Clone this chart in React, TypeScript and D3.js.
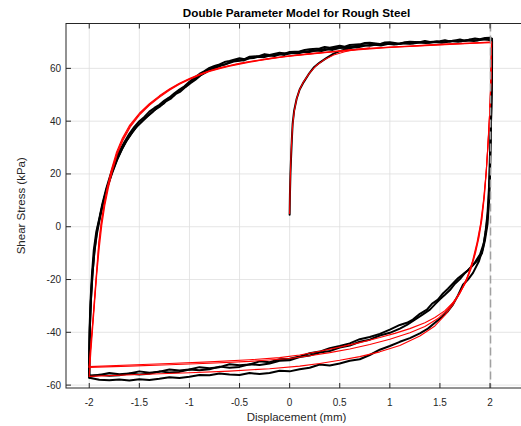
import React from 'react';
import { scaleLinear, line } from 'd3';

type Pt = [number, number];

const xTicks = [-2, -1.5, -1, -0.5, 0, 0.5, 1, 1.5, 2];
const yTicks = [-60, -40, -20, 0, 20, 40, 60];
const dashedX = 2.005;

// measured (black)
const blackInit: Pt[] = [[0,4.5],[0.003,12],[0.008,20],[0.014,26],[0.022,33],[0.03,39],[0.045,44],[0.07,48.5],[0.1,52],[0.14,54.8],[0.19,57.8],[0.24,60.3],[0.3,62.2],[0.37,64],[0.44,65.6],[0.52,66.8],[0.6,67.6],[0.7,68.5]];

const blackDown1: Pt[] = [[2.02,71.2],[2.02,62],[2.015,50],[2.01,40],[2.005,30],[2.0,20],[1.99,10],[1.975,1],[1.95,-5],[1.92,-10],[1.88,-12.5],[1.83,-14.5],[1.78,-16.5],[1.73,-18],[1.68,-19.5],[1.63,-21.5],[1.58,-23.5],[1.53,-25.3],[1.48,-27.6],[1.42,-29.2],[1.37,-31.4],[1.3,-33],[1.23,-35.2],[1.17,-36.4],[1.1,-37.2],[1.0,-39],[0.9,-40.6],[0.8,-41.8],[0.7,-42.6],[0.6,-44.2],[0.5,-45.2],[0.4,-46],[0.3,-47.3],[0.2,-47.9],[0.1,-49.2],[0,-50],[-0.1,-50.2],[-0.2,-51.3],[-0.3,-51],[-0.4,-52.2],[-0.5,-52.5],[-0.6,-52.1],[-0.7,-53.2],[-0.8,-53.6],[-0.9,-53.2],[-1.0,-54.1],[-1.1,-54.5],[-1.2,-54.1],[-1.3,-54.9],[-1.4,-55.3],[-1.5,-54.8],[-1.6,-55.6],[-1.7,-55.9],[-1.8,-55.4],[-1.9,-56.2],[-2.0,-56.4]];

const blackUp1: Pt[] = [[-2.0,-56.4],[-2.0,-48],[-1.996,-38],[-1.987,-28],[-1.973,-18],[-1.955,-9],[-1.93,-2],[-1.9,3],[-1.87,8.5],[-1.83,14.5],[-1.79,19.5],[-1.75,24],[-1.7,28.5],[-1.65,32],[-1.6,35.2],[-1.55,37.8],[-1.5,40],[-1.45,41.6],[-1.4,43.6],[-1.35,45],[-1.3,46.2],[-1.25,47.8],[-1.2,49],[-1.15,50.6],[-1.1,52],[-1.05,53.2],[-1.0,54.9],[-0.95,56.4],[-0.9,57.9],[-0.85,59],[-0.8,60.2],[-0.75,60.9],[-0.7,61.5],[-0.65,62.4],[-0.6,62.8],[-0.5,63.8],[-0.45,63.5],[-0.4,64.4],[-0.3,64.7],[-0.25,65.4],[-0.2,65.1],[-0.1,65.9],[-0.05,65.6],[0,66.2],[0.1,66.4],[0.15,67],[0.2,67.2],[0.3,67.5],[0.35,68.1],[0.4,67.8],[0.5,68.6],[0.55,68.2],[0.6,68.9],[0.7,69.1],[0.75,69.6],[0.8,69.7],[0.9,69.2],[0.95,69.8],[1.0,69.9],[1.1,69.3],[1.15,69.9],[1.2,70.1],[1.3,69.9],[1.35,70.4],[1.4,70],[1.5,70.3],[1.55,70.7],[1.6,70.2],[1.7,70.9],[1.75,70.5],[1.8,70.9],[1.85,71.3],[1.9,71],[1.95,71.5],[2.0,71.6],[2.02,71.2]];

const blackDown2: Pt[] = [[2.02,70.5],[2.02,60],[2.012,45],[2.005,32],[1.998,20],[1.985,8],[1.965,0],[1.94,-6],[1.9,-10.5],[1.85,-13.5],[1.8,-15.8],[1.75,-17.5],[1.7,-19.8],[1.65,-21.6],[1.6,-24],[1.55,-25.8],[1.5,-27.5],[1.45,-29.4],[1.4,-31.4],[1.33,-33.2],[1.25,-35.2],[1.17,-37.2],[1.1,-38.6],[1.0,-40.2],[0.9,-41.2],[0.8,-42.8],[0.7,-43.6],[0.6,-45],[0.5,-45.8],[0.4,-47.1],[0.3,-47.7],[0.2,-48.8],[0.1,-49.4],[0,-50.6],[-0.1,-50.8],[-0.2,-51.8],[-0.3,-52.4],[-0.4,-52.1],[-0.5,-53.1],[-0.6,-53.4],[-0.7,-53],[-0.8,-54],[-0.9,-54.4],[-1.0,-54.1],[-1.1,-55],[-1.2,-55.2],[-1.3,-54.8],[-1.4,-55.7],[-1.5,-56],[-1.6,-55.6],[-1.7,-56.3],[-1.8,-56.5],[-1.9,-56.1],[-2.0,-56.8]];

const blackUp2: Pt[] = [[-2.0,-56.8],[-1.998,-47],[-1.992,-37],[-1.982,-27],[-1.966,-17],[-1.945,-8],[-1.92,-1],[-1.89,4.5],[-1.855,10],[-1.815,15.5],[-1.77,20.5],[-1.72,25.5],[-1.67,29.6],[-1.62,33],[-1.57,35.8],[-1.52,38.2],[-1.46,40.6],[-1.41,42.2],[-1.35,44.2],[-1.3,45.4],[-1.24,47.4],[-1.19,48.4],[-1.14,50.2],[-1.09,51.2],[-1.04,52.9],[-0.99,54.4],[-0.94,55.7],[-0.89,57.3],[-0.84,58.4],[-0.79,59.6],[-0.74,60.1],[-0.69,61],[-0.62,61.8],[-0.56,62.6],[-0.5,62.9],[-0.43,63.7],[-0.36,63.9],[-0.3,64.6],[-0.22,64.9],[-0.15,64.7],[-0.08,65.5],[0,65.8],[0.08,65.6],[0.16,66.4],[0.24,66.8],[0.32,66.6],[0.4,67.4],[0.48,67.9],[0.56,67.7],[0.64,68.4],[0.72,68.9],[0.8,68.6],[0.88,69.1],[0.96,69.4],[1.04,69],[1.12,69.5],[1.2,69.3],[1.28,69.9],[1.36,69.6],[1.44,70],[1.52,69.7],[1.6,70.4],[1.68,70.1],[1.76,70.6],[1.84,70.4],[1.92,71],[1.98,70.8],[2.02,70.5]];

const blackDown3: Pt[] = [[2.02,70],[2.015,55],[2.01,40],[2.0,28],[1.99,15],[1.975,5],[1.955,-2],[1.93,-8],[1.89,-13],[1.83,-17.5],[1.78,-20],[1.73,-22],[1.68,-26],[1.63,-29.5],[1.58,-32],[1.52,-34.2],[1.45,-36.4],[1.38,-38.6],[1.3,-40.4],[1.2,-42.2],[1.1,-43.6],[1.0,-45.2],[0.9,-46.6],[0.8,-48.6],[0.7,-50.2],[0.6,-50.8],[0.5,-51.8],[0.4,-52.6],[0.3,-52.2],[0.2,-53.4],[0.1,-54],[0,-54.8],[-0.1,-54.6],[-0.2,-55.4],[-0.3,-55.8],[-0.4,-55.4],[-0.5,-56.2],[-0.6,-56],[-0.7,-55.6],[-0.8,-56.3],[-0.9,-56.2],[-1.0,-56.8],[-1.1,-57.3],[-1.2,-57],[-1.3,-57.6],[-1.4,-58.1],[-1.5,-57.8],[-1.6,-58.3],[-1.7,-57.9],[-1.8,-58.2],[-1.9,-58],[-1.95,-57.6],[-2.0,-57.2]];

const blackUp3: Pt[] = [[-2.0,-57.2],[-2.0,-49],[-1.995,-39],[-1.985,-29],[-1.97,-19],[-1.95,-10],[-1.925,-3],[-1.895,3],[-1.865,8.5],[-1.825,14.5],[-1.78,19.8],[-1.735,24.4],[-1.685,28.6],[-1.635,32.2],[-1.585,35],[-1.53,37.8],[-1.48,39.6],[-1.42,41.8],[-1.37,43.4],[-1.31,45.6],[-1.26,46.6],[-1.21,48.6],[-1.16,49.6],[-1.11,51.4],[-1.06,52.6],[-1.01,54.2],[-0.96,55.4],[-0.91,57],[-0.86,58.2],[-0.81,59.7],[-0.76,60.2],[-0.7,61.2],[-0.64,61.6],[-0.58,62.6],[-0.52,63.2],[-0.46,63],[-0.4,63.9],[-0.33,64.4],[-0.26,64.2],[-0.19,65],[-0.12,65.4],[-0.05,65.1],[0.03,66],[0.11,66.3],[0.19,66.1],[0.27,66.9],[0.35,67.3],[0.43,67],[0.51,67.8],[0.59,68.2],[0.67,67.9],[0.75,68.6],[0.83,69],[0.91,68.7],[0.99,69.3],[1.07,69.1],[1.15,69.6],[1.23,69.4],[1.31,69.9],[1.39,69.7],[1.47,70.2],[1.55,69.9],[1.63,70.5],[1.71,70.3],[1.79,70.8],[1.87,70.6],[1.95,71.1],[2.02,70.9]];

// model (red)
const redInit: Pt[] = [[0,5],[0.004,14],[0.01,23],[0.018,31],[0.03,38.5],[0.045,43.5],[0.07,48.5],[0.1,52],[0.14,55],[0.2,58.3],[0.27,61.2],[0.35,63.4],[0.44,65.1],[0.55,66.3],[0.65,67.1],[0.8,67.8]];

const redDown1: Pt[] = [[2.015,70],[2.013,62],[2.005,52],[1.995,42],[1.98,32],[1.965,22],[1.945,12],[1.92,3],[1.89,-4],[1.855,-10],[1.81,-16],[1.76,-21],[1.7,-25],[1.63,-28.8],[1.55,-31.8],[1.45,-34.4],[1.35,-36.4],[1.2,-38.6],[1.05,-40.4],[0.9,-42],[0.7,-43.9],[0.5,-45.6],[0.3,-47.2],[0.1,-48.6],[-0.1,-49.6],[-0.4,-50.4],[-0.8,-51.2],[-1.2,-51.8],[-1.6,-52.4],[-2.0,-53]];

const redUp1: Pt[] = [[-2.0,-53],[-1.985,-45],[-1.965,-36],[-1.945,-26],[-1.925,-16],[-1.905,-6],[-1.88,2],[-1.85,9],[-1.82,15],[-1.78,21.5],[-1.73,28],[-1.67,33.5],[-1.6,38.3],[-1.5,43],[-1.4,46.6],[-1.3,49.6],[-1.2,52.2],[-1.1,54.4],[-1.0,56.2],[-0.9,57.8],[-0.8,59.1],[-0.7,60.2],[-0.6,61.1],[-0.5,61.9],[-0.4,62.6],[-0.3,63.2],[-0.2,63.8],[-0.1,64.3],[0,64.8],[0.2,65.6],[0.4,66.3],[0.6,67],[0.8,67.6],[1.0,68.1],[1.2,68.5],[1.4,68.9],[1.6,69.3],[1.8,69.6],[2.0,70.0],[2.015,70.0]];

const redDown2: Pt[] = [[2.015,69.7],[2.012,60],[2.004,50],[1.993,40],[1.978,30],[1.96,20],[1.935,10],[1.905,1],[1.87,-6],[1.825,-13],[1.77,-19.5],[1.7,-25.2],[1.63,-29.5],[1.55,-33.5],[1.45,-37.6],[1.3,-41.4],[1.1,-45],[0.9,-47.4],[0.7,-49.2],[0.5,-50.6],[0.3,-51.8],[0.1,-52.8],[-0.2,-53.8],[-0.6,-54.7],[-1.0,-55.3],[-1.5,-56],[-2.0,-56.7]];

const redUp2: Pt[] = [[-2.0,-56.7],[-1.985,-48],[-1.965,-38],[-1.945,-28],[-1.925,-18],[-1.9,-8],[-1.875,0.5],[-1.845,8],[-1.81,14.5],[-1.77,21],[-1.72,27.5],[-1.66,33],[-1.59,37.8],[-1.5,42.3],[-1.4,46],[-1.3,49],[-1.2,51.7],[-1.1,54],[-1.0,55.8],[-0.9,57.4],[-0.8,58.8],[-0.7,59.9],[-0.6,60.8],[-0.5,61.6],[-0.4,62.3],[-0.3,63],[-0.2,63.6],[-0.1,64.1],[0,64.6],[0.2,65.4],[0.4,66.1],[0.6,66.8],[0.8,67.4],[1.0,67.9],[1.2,68.3],[1.4,68.7],[1.6,69.1],[1.8,69.4],[2.0,69.7],[2.015,69.7]];

const redDown3: Pt[] = [[2.015,70],[2.012,60],[2.004,50],[1.994,41],[1.98,31],[1.962,21],[1.94,11],[1.912,2],[1.88,-5],[1.84,-11.5],[1.79,-17.5],[1.73,-22.8],[1.66,-27.2],[1.58,-31.2],[1.48,-34.8],[1.35,-37.8],[1.2,-40.2],[1.0,-42.6],[0.8,-44.6],[0.6,-46.3],[0.4,-47.7],[0.2,-48.9],[0,-49.9],[-0.4,-51],[-0.8,-51.7],[-1.2,-52.3],[-1.6,-52.8],[-2.0,-53.3]];

const redUp3: Pt[] = [[-2.0,-53.3],[-1.985,-45.5],[-1.965,-36.5],[-1.945,-26.5],[-1.924,-16.5],[-1.903,-6.5],[-1.878,1.5],[-1.848,8.6],[-1.816,14.8],[-1.775,21.2],[-1.725,27.8],[-1.665,33.2],[-1.595,38],[-1.5,42.7],[-1.4,46.3],[-1.3,49.3],[-1.2,52],[-1.1,54.2],[-1.0,56],[-0.9,57.6],[-0.8,59],[-0.7,60.1],[-0.6,61],[-0.5,61.8],[-0.4,62.5],[-0.3,63.1],[-0.2,63.7],[-0.1,64.2],[0,64.7],[0.2,65.5],[0.4,66.2],[0.6,66.9],[0.8,67.5],[1.0,68],[1.2,68.4],[1.4,68.8],[1.6,69.2],[1.8,69.5],[2.0,69.9],[2.015,69.9]];

const blackSeries = [blackInit, blackDown1, blackUp1, blackDown2, blackUp2, blackDown3, blackUp3];
const redSeries = [redInit, redDown1, redUp1, redDown2, redUp2, redDown3, redUp3];

const W = 521;
const H = 426;
const left = 66;
const right = 527;
const top = 23.5;
const bottom = 388;
const font = 'Liberation Sans, Arial, Helvetica, sans-serif';
const axisColor = '#262626';

export default function App() {
  const x = scaleLinear().domain([-2.232, 2.369]).range([left, right]);
  const y = scaleLinear().domain([-61.1, 77.0]).range([bottom, top]);
  const path = line<Pt>()
    .x((d) => x(d[0]))
    .y((d) => y(d[1]));

  return (
    <svg
      width={W}
      height={H}
      style={{ position: 'fixed', left: 0, top: 0, background: '#fff' }}
    >
      <rect x={0} y={0} width={W} height={H} fill="#fff" />
      {/* grid */}
      <g stroke="#dedede" strokeWidth={0.8}>
        {xTicks.map((t) => (
          <line key={'gx' + t} x1={x(t)} x2={x(t)} y1={top} y2={bottom} />
        ))}
        {yTicks.map((t) => (
          <line key={'gy' + t} x1={left} x2={right} y1={y(t)} y2={y(t)} />
        ))}
      </g>
      {/* data */}
      <g fill="none" strokeLinejoin="round" strokeLinecap="round">
        {blackSeries.map((s, i) => (
          <path key={'b' + i} d={path(s) || ''} stroke="#000" strokeWidth={2} />
        ))}
        {redSeries.map((s, i) => (
          <path key={'r' + i} d={path(s) || ''} stroke="#ff0000" strokeWidth={1.1} />
        ))}
      </g>
      <line
        x1={x(dashedX)}
        x2={x(dashedX)}
        y1={top}
        y2={bottom}
        stroke="#a0a0a0"
        strokeWidth={1.5}
        strokeDasharray="8,4"
      />
      {/* box */}
      <rect
        x={left}
        y={top}
        width={right - left}
        height={bottom - top}
        fill="none"
        stroke={axisColor}
        strokeWidth={1}
      />
      {/* ticks */}
      <g stroke={axisColor} strokeWidth={1}>
        {xTicks.map((t) => (
          <React.Fragment key={'tx' + t}>
            <line x1={x(t)} x2={x(t)} y1={bottom} y2={bottom - 5} />
            <line x1={x(t)} x2={x(t)} y1={top} y2={top + 5} />
          </React.Fragment>
        ))}
        {yTicks.map((t) => (
          <line key={'ty' + t} x1={left} x2={left + 5} y1={y(t)} y2={y(t)} />
        ))}
      </g>
      <g fontFamily={font} fontSize={10} fill={axisColor}>
        {xTicks.map((t) => (
          <text key={'lx' + t} x={x(t)} y={405.5} textAnchor="middle">
            {String(t)}
          </text>
        ))}
        {yTicks.map((t) => (
          <text key={'ly' + t} x={61} y={y(t) + 3.5} textAnchor="end">
            {String(t)}
          </text>
        ))}
      </g>
      <text
        x={(left + right) / 2}
        y={421}
        textAnchor="middle"
        fontFamily={font}
        fontSize={11.5}
        fill={axisColor}
      >
        Displacement (mm)
      </text>
      <text
        transform={`translate(25,${(top + bottom) / 2}) rotate(-90)`}
        textAnchor="middle"
        fontFamily={font}
        fontSize={11.5}
        fill={axisColor}
      >
        Shear Stress (kPa)
      </text>
      <text
        x={(left + right) / 2}
        y={16.8}
        textAnchor="middle"
        fontFamily={font}
        fontSize={11.7}
        fontWeight="bold"
        fill="#000"
      >
        Double Parameter Model for Rough Steel
      </text>
    </svg>
  );
}
